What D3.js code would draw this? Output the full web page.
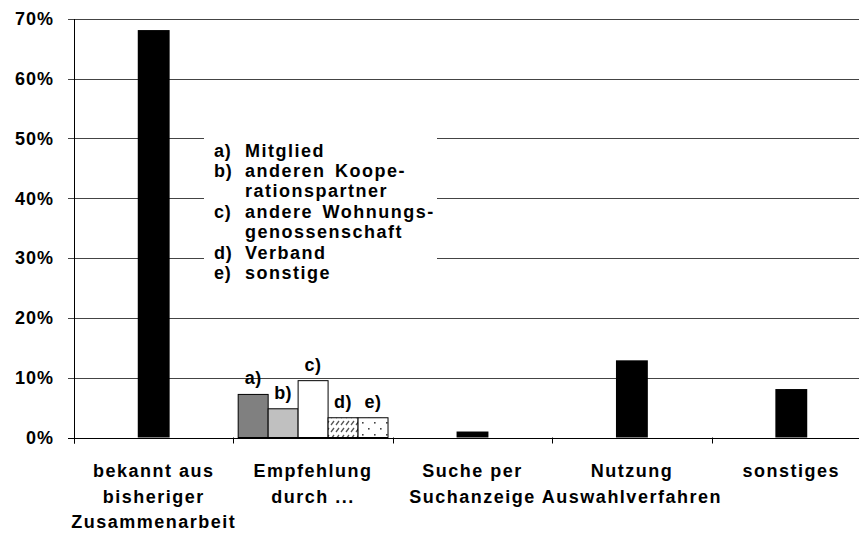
<!DOCTYPE html>
<html>
<head>
<meta charset="utf-8">
<script src="https://cdn.jsdelivr.net/npm/d3@7"></script>
<style>
  body { margin: 0; background: #fff; }
  text { font-family: "Liberation Sans", Arial, sans-serif; font-weight: bold; fill: #000; }
</style>
</head>
<body>
<div id="chart"></div>
<script>
// categories (each label split into its lines)
var categories = [
    ["bekannt aus", "bisheriger", "Zusammenarbeit"],
    ["Empfehlung", "durch ..."],
    ["Suche per", "Suchanzeige"],
    ["Nutzung", "Auswahlverfahren"],
    ["sonstiges"]
]
// single bars, null where the category is split into sub bars
var values = [0.681, null, 0.010, 0.129, 0.081]

// sub bars of "Empfehlung durch ..."
var subKeys = ["a)", "b)", "c)", "d)", "e)"]
var subValues = [0.072, 0.048, 0.095, 0.033, 0.033]

var legendLines = [
    ["a)", "Mitglied"],
    ["b)", "anderen Koope-"],
    ["", "rationspartner"],
    ["c)", "andere Wohnungs-"],
    ["", "genossenschaft"],
    ["d)", "Verband"],
    ["e)", "sonstige"]
]

var yTicks = [0, 0.1, 0.2, 0.3, 0.4, 0.5, 0.6, 0.7]

var width = 859, height = 533
var margin = {top: 18.7, left: 74, bottom: 437.5, right: 871}

var svg = d3.select("#chart").append("svg")
    .attr("width", width)
    .attr("height", height)

var defs = svg.append("defs")
var hatch = defs.append("pattern")
    .attr("id", "hatch")
    .attr("patternUnits", "userSpaceOnUse")
    .attr("width", 5).attr("height", 7)
hatch.append("rect").attr("width", 5).attr("height", 7).attr("fill", "#fff")
hatch.append("line")
    .attr("x1", 1).attr("y1", 5).attr("x2", 4).attr("y2", 1)
    .attr("stroke", "#555").attr("stroke-width", 1.3)

var dots = defs.append("pattern")
    .attr("id", "dots")
    .attr("patternUnits", "userSpaceOnUse")
    .attr("width", 12).attr("height", 12)
dots.append("rect").attr("width", 12).attr("height", 12).attr("fill", "#fff")
dots.append("rect").attr("x", 2).attr("y", 2).attr("width", 1.6).attr("height", 1.6).attr("fill", "#444")
dots.append("rect").attr("x", 8).attr("y", 8).attr("width", 1.6).attr("height", 1.6).attr("fill", "#444")

var subFills = ["#808080", "#c0c0c0", "#ffffff", "url(#hatch)", "url(#dots)"]

var y = d3.scaleLinear()
    .domain([0, 0.7])
    .range([margin.bottom, margin.top])

var x = d3.scaleBand()
    .domain(d3.range(categories.length))
    .range([margin.left, margin.right])
    .padding(0)

var bw = x.bandwidth()

// gridlines
svg.append("g")
    .selectAll("line")
    .data(yTicks)
    .enter()
    .append("line")
    .attr("x1", margin.left - 6)
    .attr("x2", width)
    .attr("y1", function(d) { return Math.round(y(d)) + 0.5 })
    .attr("y2", function(d) { return Math.round(y(d)) + 0.5 })
    .attr("stroke", function(d) { return d === 0 ? "#000" : "#444" })

// y axis labels
svg.append("g")
    .selectAll("text")
    .data(yTicks)
    .enter()
    .append("text")
    .attr("x", 54)
    .attr("y", function(d) { return y(d) })
    .attr("dy", "0.36em")
    .attr("text-anchor", "end")
    .style("font-size", "18px")
    .style("letter-spacing", "1px")
    .text(function(d) { return d3.format(".0%")(d) })

// y axis line
svg.append("line")
    .attr("x1", margin.left + 0.5).attr("x2", margin.left + 0.5)
    .attr("y1", Math.round(y(0.7))).attr("y2", margin.bottom + 6)
    .attr("stroke", "#000")

// category ticks
svg.append("g")
    .selectAll("line")
    .data(d3.range(categories.length))
    .enter()
    .append("line")
    .attr("x1", function(d) { return Math.round(x(d)) + 0.5 })
    .attr("x2", function(d) { return Math.round(x(d)) + 0.5 })
    .attr("y1", margin.bottom)
    .attr("y2", margin.bottom + 6)
    .attr("stroke", "#000")

// legend box (covers gridlines)
var legend = svg.append("g")
legend.append("rect")
    .attr("x", 204).attr("y", 135)
    .attr("width", 233).attr("height", 168)
    .attr("fill", "#fff")

legend.selectAll("text.key")
    .data(legendLines)
    .enter()
    .append("text")
    .attr("class", "key")
    .attr("x", 214)
    .attr("y", function(d, i) { return 156.5 + i * 20.4 })
    .style("font-size", "18px")
    .style("letter-spacing", "0.8px")
    .text(function(d) { return d[0] })

legend.selectAll("text.desc")
    .data(legendLines)
    .enter()
    .append("text")
    .attr("class", "desc")
    .attr("x", 245)
    .attr("y", function(d, i) { return 156.5 + i * 20.4 })
    .style("font-size", "18px")
    .style("letter-spacing", "1.5px")
    .style("word-spacing", "3px")
    .text(function(d) { return d[1] })

// single bars
var single = values.map(function(v, i) { return {i: i, v: v} })
    .filter(function(d) { return d.v !== null })

svg.append("g")
    .selectAll("rect")
    .data(single)
    .enter()
    .append("rect")
    .attr("x", function(d) { return x(d.i) + bw * 0.4 })
    .attr("width", bw * 0.2)
    .attr("y", function(d) { return y(d.v) })
    .attr("height", function(d) { return y(0) - y(d.v) })
    .attr("fill", "#000")

// sub bars
var gi = values.indexOf(null)
var xs = d3.scaleBand()
    .domain(subKeys)
    .range([x(gi) + bw * 0.03, x(gi) + bw * 0.97])
    .padding(0)

var sub = svg.append("g")
sub.selectAll("rect")
    .data(subValues)
    .enter()
    .append("rect")
    .attr("x", function(d, i) { return xs(subKeys[i]) })
    .attr("width", xs.bandwidth())
    .attr("y", function(d) { return y(d) })
    .attr("height", function(d) { return y(0) - y(d) })
    .attr("fill", function(d, i) { return subFills[i] })
    .attr("stroke", "#000")
    .attr("stroke-width", 1)

sub.selectAll("text")
    .data(subValues)
    .enter()
    .append("text")
    .attr("x", function(d, i) { return xs(subKeys[i]) + xs.bandwidth() / 2 })
    .attr("y", function(d) { return y(d) - 10 })
    .attr("text-anchor", "middle")
    .style("font-size", "18px")
    .style("letter-spacing", "0.5px")
    .text(function(d, i) { return subKeys[i] })

// category labels
var labels = svg.append("g")
    .selectAll("text")
    .data(categories)
    .enter()
    .append("text")
    .attr("text-anchor", "middle")
    .style("font-size", "18px")
    .style("letter-spacing", "1.5px")

labels.selectAll("tspan")
    .data(function(d, i) { return d.map(function(t) { return {t: t, i: i} }) })
    .enter()
    .append("tspan")
    .attr("x", function(d) { return x(d.i) + bw / 2 })
    .attr("y", function(d, j) { return 477 + j * 25.5 })
    .text(function(d) { return d.t })
</script>
</body>
</html>
